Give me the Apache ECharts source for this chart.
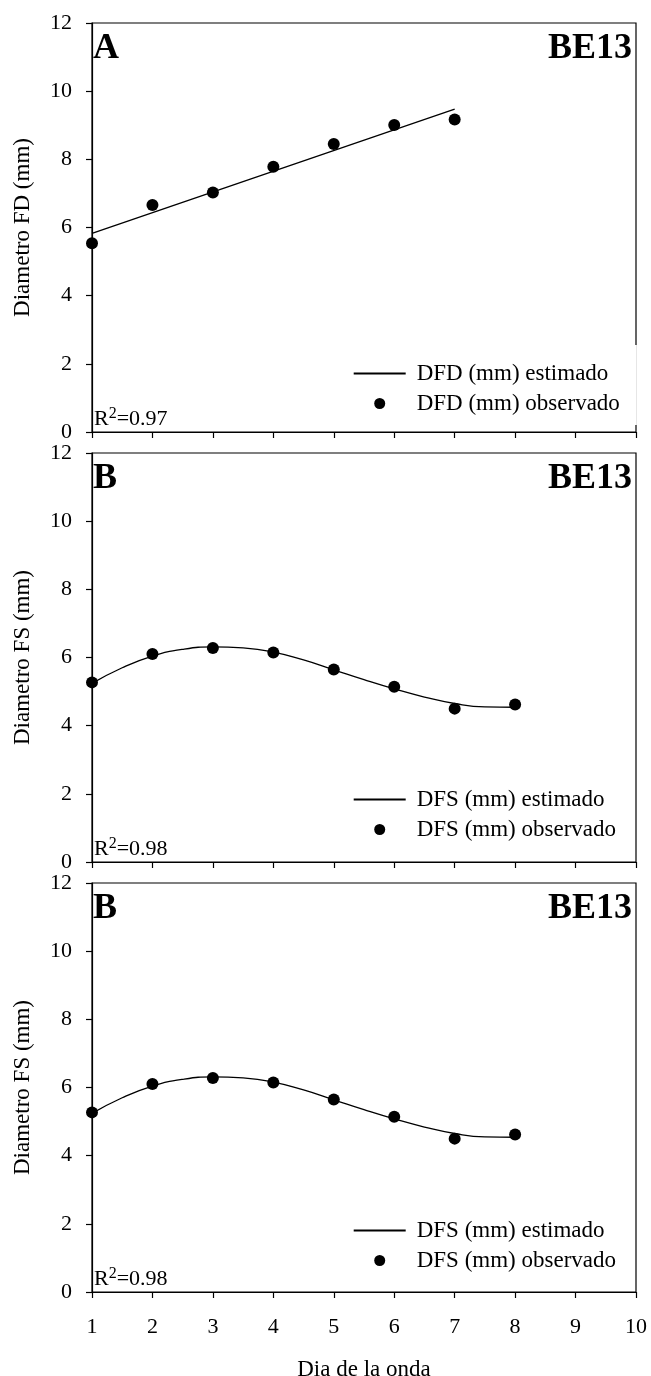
<!DOCTYPE html>
<html>
	<head>
		<meta charset="utf-8">
		<title>Diametro folicular BE13</title>
		<script src="https://cdn.jsdelivr.net/npm/echarts@6/dist/echarts.min.js"></script>
		<style>
			html, body { margin: 0; padding: 0; background: #fff; }
		</style>
	</head>
	<body>
		<div id="main" style="width: 651px;height:1376px;"></div>
		<script>
			// datos
			var xTicks = [1, 2, 3, 4, 5, 6, 7, 8, 9, 10];
			var yTicks = [0, 2, 4, 6, 8, 10, 12];

			// panel A - folículo dominante
			var dfdDays = [1, 2, 3, 4, 5, 6, 7];
			var dfdObservado = [5.54, 6.66, 7.03, 7.78, 8.45, 9.01, 9.17];
			var dfdEstDays = [1, 7];
			var dfdEstimado = [5.83, 9.47];

			// paneles B - folículo subordinado
			var dfsDays = [1, 2, 3, 4, 5, 6, 7, 8];
			var dfsObservado = [5.27, 6.10, 6.28, 6.15, 5.65, 5.14, 4.50, 4.62];
			var dfsEstDays = [1, 1.5, 2, 2.5, 3, 3.5, 4, 4.5, 5, 5.5, 6, 6.5, 7, 7.5, 8];
			var dfsEstimado = [5.24, 5.70, 6.04, 6.24, 6.31, 6.28, 6.16, 5.93, 5.64, 5.35, 5.08, 4.84, 4.65, 4.55, 4.54];

			var panels = [
				{ letra: 'A', yName: 'Diametro FD (mm)', r2: '0.97', est: 'DFD (mm) estimado', obs: 'DFD (mm) observado',
				  estX: dfdEstDays, estY: dfdEstimado, obsX: dfdDays, obsY: dfdObservado, smooth: false },
				{ letra: 'B', yName: 'Diametro FS (mm)', r2: '0.98', est: 'DFS (mm) estimado', obs: 'DFS (mm) observado',
				  estX: dfsEstDays, estY: dfsEstimado, obsX: dfsDays, obsY: dfsObservado, smooth: true },
				{ letra: 'B', yName: 'Diametro FS (mm)', r2: '0.98', est: 'DFS (mm) estimado', obs: 'DFS (mm) observado',
				  estX: dfsEstDays, estY: dfsEstimado, obsX: dfsDays, obsY: dfsObservado, smooth: true }
			];

			var font = 'Liberation Serif, Times New Roman, serif';
			var gridTops = [23, 453, 883];
			var gridH = 409;
			var legendTops = [345, 788, 1219];

			function pares(xs, ys) {
				var out = [];
				for (var i = 0; i < xs.length; i++) out.push([xs[i], ys[i]]);
				return out;
			}

			var option = {
				backgroundColor: '#fff',
				animation: false,
				textStyle: { fontFamily: font, color: '#000' },
				grid: [], xAxis: [], yAxis: [], series: [], legend: [], graphic: []
			};

			panels.forEach(function(p, i) {
				var ultimo = i === panels.length - 1;
				option.grid.push({
					left: 92, right: 15, top: gridTops[i], height: gridH,
					outerBoundsMode: 'none', containLabel: false,
					show: true, borderColor: '#000', borderWidth: 1.2, backgroundColor: 'transparent'
				});
				option.xAxis.push({
					type: 'value', gridIndex: i, min: xTicks[0], max: xTicks[xTicks.length - 1], interval: 1,
					splitLine: { show: false },
					axisLine: { lineStyle: { color: '#000', width: 1.2 } },
					axisTick: { length: 6, lineStyle: { color: '#000', width: 1.2 } },
					axisLabel: { show: ultimo, margin: 24, fontSize: 22, color: '#000', fontFamily: font },
					name: ultimo ? 'Dia de la onda' : '',
					nameLocation: 'middle', nameGap: 66,
					nameTextStyle: { fontSize: 23, color: '#000', fontFamily: font }
				});
				option.yAxis.push({
					type: 'value', gridIndex: i, min: yTicks[0], max: yTicks[yTicks.length - 1], interval: 2,
					splitLine: { show: false },
					axisLine: { show: true, lineStyle: { color: '#000', width: 1.2 } },
					axisTick: { show: true, length: 6, lineStyle: { color: '#000', width: 1.2 } },
					axisLabel: { margin: 20, fontSize: 22, color: '#000', fontFamily: font },
					name: p.yName, nameLocation: 'middle', nameGap: 58,
					nameTextStyle: { fontSize: 23, color: '#000', fontFamily: font }
				});
				option.series.push({
					name: p.est, type: 'line', xAxisIndex: i, yAxisIndex: i,
					data: pares(p.estX, p.estY), smooth: p.smooth, showSymbol: false, symbol: 'none',
					lineStyle: { color: '#000', width: 1.3 }, itemStyle: { color: '#000' }, z: 2
				});
				option.series.push({
					name: p.obs, type: 'scatter', xAxisIndex: i, yAxisIndex: i,
					data: pares(p.obsX, p.obsY), symbol: 'circle', symbolSize: 12,
					itemStyle: { color: '#000', opacity: 1 }, z: 3
				});
				var leg = {
					data: [
						{ name: p.est, itemStyle: { opacity: 0 } },
						{ name: p.obs, icon: 'circle', itemStyle: { opacity: 1 } }
					],
					orient: 'vertical', left: 352.7, top: legendTops[i],
					itemWidth: 52, itemHeight: 11, itemGap: 7, selectedMode: false,
					padding: 0,
					textStyle: { fontSize: 23, lineHeight: 22, color: '#000', fontFamily: font, padding: [0, 0, 0, 6] }
				};
				if (i === 0) {
					// el recuadro blanco de la leyenda tapa el borde derecho en el panel A
					leg.left = 340.7;
					leg.padding = [17, 17, 10, 12];
					leg.backgroundColor = '#fff';
				}
				option.legend.push(leg);

				var top = gridTops[i];
				option.graphic.push({
					type: 'text', left: 93, top: top + 8, z: 10,
					style: { text: p.letra, font: 'bold 36px ' + font, fill: '#000' }
				});
				option.graphic.push({
					type: 'text', right: 19, top: top + 8, z: 10,
					style: { text: 'BE13', font: 'bold 36px ' + font, fill: '#000' }
				});
				option.graphic.push({
					type: 'text', left: 94, top: top + gridH - 26, z: 10,
					style: {
						text: '{a|R}{b|2}{a|=' + p.r2 + '}',
						rich: {
							a: { fontSize: 22, lineHeight: 26, fontFamily: font, fill: '#000' },
							b: { fontSize: 16, lineHeight: 16, fontFamily: font, fill: '#000', verticalAlign: 'top' }
						}
					}
				});
			});

			var myChart = echarts.init(document.getElementById('main'));
			myChart.setOption(option);
		</script>
	</body>
</html>
